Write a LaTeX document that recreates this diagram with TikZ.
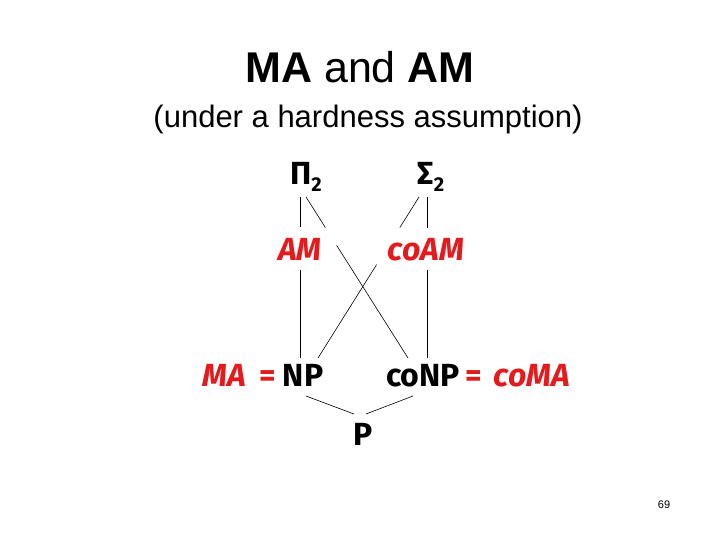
\documentclass[tikz,border=0pt]{standalone}
\usepackage{fontspec}
\setmainfont{Liberation Sans}
\newfontfamily\diagfont{Fira Sans}
\usetikzlibrary{calc}
\definecolor{amred}{RGB}{228,26,28}
\newcommand{\lowtwo}{\raisebox{-7pt}{\fontsize{20}{20}\selectfont 2}}
\tikzset{
  cls/.style={font=\diagfont\bfseries\fontsize{32}{32}\selectfont, inner sep=0pt, anchor=base},
  rcls/.style={cls, font=\diagfont\bfseries\itshape\fontsize{32}{32}\selectfont, text=amred},
  eqsign/.style={cls, text=amred},
  link/.style={line width=0.6pt}
}
\begin{document}
\begin{tikzpicture}[x=1pt, y=-1pt]
  \useasboundingbox[fill=white] (0,0) rectangle (720,540);
  % title
  \node[font=\fontsize{43}{43}\selectfont, anchor=base, inner sep=0pt] (title) at (360,83) {\textbf{MA} and \textbf{AM}};
  \node[font=\fontsize{31}{31}\selectfont, anchor=base, inner sep=0pt] (subtitle) at (368,128) {(under a hardness assumption)};
  % classes
  \node[cls] (pi) at (306,185) {Π\lowtwo};
  \node[cls] (sigma) at (431,185) {Σ\lowtwo};
  \node[rcls] (am) at (300,260) {AM};
  \node[rcls] (coam) at (426,260) {coAM};
  \node[rcls] (ma) at (224,386) {MA};
  \node[eqsign] (eqa) at (268,386) {=};
  \node[cls] (np) at (303,386) {NP};
  \node[cls] (conp) at (423,386) {coNP};
  \node[eqsign] (eqb) at (474,386) {=};
  \node[rcls] (coma) at (532,386) {coMA};
  \node[cls] (p) at (363,445) {P};
  \node[font=\fontsize{11}{11}\selectfont, anchor=base, inner sep=0pt] (pagenum) at (664,508) {69};
  % straight inclusions
  \draw[link] ($(pi.base -| am)+(0,12)$) -- ($(am.base)+(0,-33)$);
  \draw[link] ($(sigma.base -| coam)+(1,12)$) -- ($(coam.base)+(1,-32)$);
  \draw[link] ($(am.base)+(0,10)$) -- ($(np.base)+(-3,-28)$);
  \draw[link] ($(coam.base)+(1,10)$) -- ($(conp.base)+(4,-28)$);
  \draw[link] ($(np.base)+(3,10)$) -- ($(p.base)+(-9,-31)$);
  \draw[link] ($(conp.base)+(-10,10)$) -- ($(p.base)+(3,-31)$);
  % crossing lines, broken at AM and coAM
  \coordinate (pic) at ($(pi.base)+(0,12)$);
  \coordinate (conpc) at ($(conp.base)+(-15,-28)$);
  \draw[link] (pic) -- ($(pic)!0.19!(conpc)$) ($(pic)!0.30!(conpc)$) -- (conpc);
  \coordinate (sigc) at ($(sigma.base)+(-12,12)$);
  \coordinate (npc) at ($(np.base)+(15,-28)$);
  \draw[link] (sigc) -- ($(sigc)!0.19!(npc)$) ($(sigc)!0.42!(npc)$) -- (npc);
\end{tikzpicture}
\end{document}
